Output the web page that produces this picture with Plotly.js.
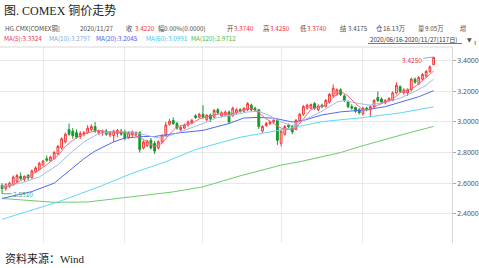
<!DOCTYPE html>
<html><head><meta charset="utf-8">
<script src="https://cdn.plot.ly/plotly-3.0.1.min.js"></script>
<style>html,body{margin:0;padding:0;background:#fff;}#chart{width:479px;height:268px;}</style>
</head><body><div id="chart"></div>
<script>
// ---- data ----
const openP = [2.585,2.565,2.58,2.59,2.61,2.645,2.625,2.65,2.635,2.675,
2.69,2.72,2.76,2.745,2.76,2.79,2.83,2.87,2.95,2.94,
2.93,2.905,2.92,2.93,2.95,2.97,2.925,2.93,2.94,2.915,
2.91,2.925,2.94,2.935,2.90,2.915,2.92,2.93,2.83,2.845,
2.88,2.86,2.83,2.87,2.91,2.985,3.01,2.99,2.95,2.96,
2.98,2.995,3.04,3.03,3.05,3.015,3.045,3.03,3.08,3.04,
3.045,3.065,3.04,3.06,3.08,3.07,3.08,3.11,3.09,3.08,
2.94,2.975,2.99,3.00,3.01,2.86,2.92,2.98,2.97,2.95,
3.01,3.05,3.09,3.09,3.12,3.08,3.11,3.10,3.13,3.17,
3.18,3.21,3.17,3.13,3.10,3.095,3.08,3.055,3.09,3.08,
3.10,3.16,3.15,3.125,3.14,3.14,3.19,3.23,3.19,3.19,
3.21,3.28,3.25,3.28,3.30,3.33,3.374];
const highP = [2.60,2.60,2.61,2.65,2.66,2.67,2.65,2.66,2.69,2.71,
2.74,2.75,2.78,2.78,2.81,2.85,2.90,2.93,2.99,2.96,
2.95,2.94,2.94,2.98,2.985,3.00,2.95,2.95,2.955,2.94,
2.95,2.955,2.955,2.95,2.94,2.945,2.94,2.94,2.88,2.885,
2.895,2.875,2.88,2.92,3.00,3.02,3.03,3.00,2.975,2.99,
3.01,3.02,3.05,3.06,3.11,3.05,3.055,3.085,3.09,3.07,
3.075,3.075,3.10,3.09,3.09,3.095,3.13,3.12,3.10,3.085,
2.98,3.00,3.01,3.02,3.02,2.95,2.98,2.99,2.98,3.02,
3.06,3.11,3.12,3.12,3.13,3.115,3.12,3.15,3.19,3.245,
3.22,3.22,3.18,3.14,3.115,3.10,3.09,3.10,3.10,3.11,
3.15,3.20,3.16,3.15,3.16,3.20,3.26,3.24,3.22,3.22,
3.29,3.29,3.30,3.32,3.34,3.37,3.425];
const lowP = [2.531,2.55,2.57,2.585,2.60,2.62,2.61,2.62,2.63,2.665,
2.685,2.71,2.74,2.74,2.755,2.785,2.82,2.86,2.91,2.89,
2.89,2.89,2.905,2.92,2.94,2.93,2.915,2.91,2.91,2.90,
2.87,2.90,2.91,2.88,2.89,2.90,2.905,2.80,2.82,2.835,
2.82,2.79,2.82,2.86,2.905,2.975,2.98,2.95,2.94,2.955,
2.97,2.985,3.02,3.025,3.025,3.005,3.00,3.025,3.05,3.03,
3.04,2.99,3.035,3.05,3.06,3.06,3.07,3.07,3.07,2.955,
2.93,2.97,2.98,2.99,2.85,2.84,2.91,2.96,2.92,2.945,
3.005,3.04,3.08,3.085,3.08,3.07,3.09,3.095,3.12,3.16,
3.17,3.17,3.13,3.09,3.08,3.06,3.05,3.04,3.07,3.03,
3.09,3.13,3.12,3.115,3.13,3.135,3.18,3.19,3.18,3.17,
3.20,3.25,3.24,3.27,3.29,3.32,3.374];
const closeP = [2.565,2.59,2.60,2.64,2.65,2.63,2.645,2.635,2.68,2.70,
2.73,2.745,2.75,2.77,2.80,2.84,2.89,2.92,2.92,2.91,
2.90,2.925,2.93,2.96,2.97,2.94,2.94,2.935,2.92,2.93,
2.94,2.945,2.92,2.895,2.93,2.935,2.93,2.82,2.87,2.875,
2.83,2.81,2.87,2.91,2.98,3.005,2.99,2.96,2.965,2.98,
3.00,3.01,3.03,3.05,3.03,3.045,3.02,3.075,3.06,3.06,
3.065,3.00,3.09,3.08,3.07,3.09,3.12,3.08,3.08,2.97,
2.97,2.99,3.00,3.01,2.88,2.94,2.97,2.97,2.935,3.01,
3.05,3.10,3.11,3.115,3.09,3.105,3.10,3.14,3.18,3.22,
3.21,3.18,3.14,3.10,3.09,3.07,3.06,3.09,3.08,3.10,
3.14,3.14,3.13,3.14,3.155,3.19,3.24,3.20,3.21,3.21,
3.28,3.26,3.29,3.31,3.33,3.36,3.422];

// moving averages (day index, value)
const ma5Day = [0,3,6,9,12,15,17,19,21,23,26,29,32,35,37,39,41,43,45,47,49,51,53,55,57,59,61,63,65,67,69,71,73,75,77,79,81,83,85,87,89,91,93,95,97,99,101,103,105,107,109,111,113,115,116];
const ma5Val = [2.57,2.59,2.63,2.67,2.72,2.78,2.84,2.88,2.91,2.93,2.945,2.935,2.93,2.92,2.90,2.87,2.84,2.86,2.92,2.97,2.98,2.99,3.02,3.035,3.045,3.055,3.05,3.06,3.08,3.09,3.06,3.02,2.99,2.96,2.95,2.96,3.02,3.08,3.10,3.11,3.16,3.20,3.17,3.12,3.08,3.08,3.11,3.13,3.15,3.19,3.21,3.23,3.27,3.31,3.3324];
const ma10Day = [0,5,10,15,19,22,26,30,35,39,42,45,49,54,58,62,66,69,72,75,78,82,86,90,92,96,99,103,107,111,114,116];
const ma10Val = [2.58,2.60,2.64,2.72,2.81,2.87,2.925,2.935,2.935,2.915,2.895,2.91,2.945,2.99,3.03,3.045,3.065,3.07,3.04,3.0,2.975,3.02,3.07,3.13,3.14,3.12,3.11,3.13,3.155,3.20,3.24,3.2797];
const ma20Day = [0,8,14,19,22,25,30,33,38,41,48,54,58,61,65,69,73,78,81,86,91,98,103,108,112,116];
const ma20Val = [2.50,2.545,2.60,2.70,2.76,2.81,2.87,2.895,2.905,2.905,2.93,2.945,2.97,2.99,3.026,3.03,3.025,3.0,3.01,3.046,3.066,3.08,3.10,3.135,3.165,3.2045];
const ma60Day = [0,15,26,35,44,52,64,75,86,96,107,116];
const ma60Val = [2.364,2.477,2.576,2.665,2.74,2.82,2.90,2.948,3.002,3.026,3.059,3.0991];
const ma120Day = [0,8,14,23,35,46,54,64,75,80,91,96,107,116];
const ma120Val = [2.50,2.485,2.475,2.477,2.51,2.543,2.576,2.648,2.718,2.74,2.80,2.838,2.913,2.9712];

const monthStarts = [11,33,54,75,97];
const yTicks = [2.4,2.6,2.8,3.0,3.2,3.4];

const days = closeP.map((_, i) => i);

// ---- layout helpers ----
const PW = 452, PT = 47, PB = 243;
const px = v => v / PW;
const py = v => (PB - v) / (PB - PT);
const CJK = 'Noto Sans CJK SC, Noto Sans, sans-serif';
const SERIF = 'Liberation Serif, Noto Sans CJK SC, serif';

const traces = [
  {type:'candlestick', x:days, open:openP, high:highP, low:lowP, close:closeP,
   increasing:{line:{color:'#f23a3a', width:1}, fillcolor:'#ffd0d0'},
   decreasing:{line:{color:'#129a2a', width:1}, fillcolor:'#129a2a'},
   whiskerwidth:0, hoverinfo:'skip'},
  {type:'scatter', mode:'lines', x:ma120Day, y:ma120Val, line:{color:'#6ccc6c', width:1}, hoverinfo:'skip'},
  {type:'scatter', mode:'lines', x:ma60Day, y:ma60Val, line:{color:'#5fd8f2', width:1}, hoverinfo:'skip'},
  {type:'scatter', mode:'lines', x:ma20Day, y:ma20Val, line:{color:'#5468f0', width:1}, hoverinfo:'skip'},
  {type:'scatter', mode:'lines', x:ma10Day, y:ma10Val, line:{color:'#a0bde0', width:1}, hoverinfo:'skip'},
  {type:'scatter', mode:'lines', x:ma5Day, y:ma5Val, line:{color:'#f26a80', width:1}, hoverinfo:'skip'}
];

const GRAY = '#4a4a4a', RED = '#f03040';
const row2 = [
  ['HG.CMX[COMEX铜]',3,GRAY],['2020/11/27',78,GRAY],['收',124,GRAY],['3.4220',133,RED],
  ['幅',156,GRAY],['0.00%(0.0000)',162,GRAY],['开',225,GRAY],['3.3740',232,RED],
  ['高',261,GRAY],['3.4250',268,RED],['低',298,GRAY],['3.3740',305,RED],
  ['结',338,GRAY],['3.4175',346,GRAY],['仓',374,GRAY],['16.13万',381,GRAY],
  ['量',416,GRAY],['9.05万',423,GRAY],['增',458,GRAY]
];
const row3 = [
  ['MA(5):3.3324',2,'#e8344e'],['MA(10):3.2797',47,'#7fa8d8'],['MA(20):3.2045',94,'#3d5af0'],
  ['MA(60):3.0991',144,'#3cc6ea'],['MA(120):2.9712',189,'#46b846']
];

const ann = [];
ann.push({text:'图. COMEX 铜价走势', x:px(2), y:py(10), xref:'paper', yref:'paper', xanchor:'left', yanchor:'middle', showarrow:false, font:{family:SERIF, size:12, color:'#222'}});
row2.forEach(r => ann.push({text:r[0], x:px(r[1]), y:py(28.3), xref:'paper', yref:'paper', xanchor:'left', yanchor:'middle', showarrow:false, font:{family:CJK, size:6.3, color:r[2]}}));
row3.forEach(r => ann.push({text:r[0], x:px(r[1]), y:py(38), xref:'paper', yref:'paper', xanchor:'left', yanchor:'middle', showarrow:false, font:{family:CJK, size:6.3, color:r[2]}}));
ann.push({text:'2020/06/16-2020/11/27(117日)', x:px(368), y:py(39.5), xref:'paper', yref:'paper', xanchor:'left', yanchor:'middle', showarrow:false, font:{family:CJK, size:6.2, color:'#333'}});
ann.push({text:'▼', x:px(465), y:py(39.5), xref:'paper', yref:'paper', xanchor:'left', yanchor:'middle', showarrow:false, font:{family:'DejaVu Sans', size:6, color:'#555'}});
ann.push({text:'资料来源：Wind', x:px(3), y:py(258), xref:'paper', yref:'paper', xanchor:'left', yanchor:'middle', showarrow:false, font:{family:SERIF, size:11, color:'#222'}});
// high / low markers
ann.push({text:'3.4250', x:116, y:3.425, xref:'x', yref:'y', showarrow:true, arrowhead:0, arrowwidth:1, arrowcolor:'#7fb0e0', ax:-22, ay:3, font:{family:CJK, size:6.5, color:RED}});
ann.push({text:'2.5310', x:0, y:2.531, xref:'x', yref:'y', showarrow:true, arrowhead:0, arrowwidth:1, arrowcolor:'#5aa898', ax:21, ay:0, font:{family:CJK, size:6.5, color:'#3e9c8c'}});

const shapes = [
  {type:'line', xref:'paper', yref:'paper', x0:0, x1:1, y0:1, y1:1, line:{color:'#d8d8d8', width:1}},
  {type:'line', xref:'paper', yref:'paper', x0:px(368), x1:px(462), y0:py(43.5), y1:py(43.5), line:{color:'#555', width:0.8}},
  {type:'rect', xref:'paper', yref:'paper', x0:px(474.5), x1:px(476), y0:py(45), y1:py(41), line:{width:0}, fillcolor:'#f0a020'}
];

const layout = {
  width:479, height:268,
  margin:{l:0, r:27, t:47, b:25, pad:0},
  paper_bgcolor:'#ffffff', plot_bgcolor:'#ffffff',
  showlegend:false,
  xaxis:{range:[-0.565,120.94], tickvals:monthStarts, showticklabels:false, ticks:'',
         showgrid:true, gridcolor:'#e9e9e9', gridwidth:1, zeroline:false, showline:false,
         rangeslider:{visible:false}, fixedrange:true},
  yaxis:{side:'right', range:[2.209,3.490], tickvals:yTicks, tickformat:'.4f',
         ticks:'outside', ticklen:3, tickcolor:'#aaaaaa', showline:true, linecolor:'#d6d6d6',
         showgrid:true, gridcolor:'#e9e9e9', zeroline:false,
         tickfont:{family:'Noto Sans, sans-serif', size:6.8, color:'#555'}, fixedrange:true},
  annotations:ann, shapes:shapes
};

Plotly.newPlot('chart', traces, layout, {staticPlot:true, displayModeBar:false});
</script>
</body></html>
